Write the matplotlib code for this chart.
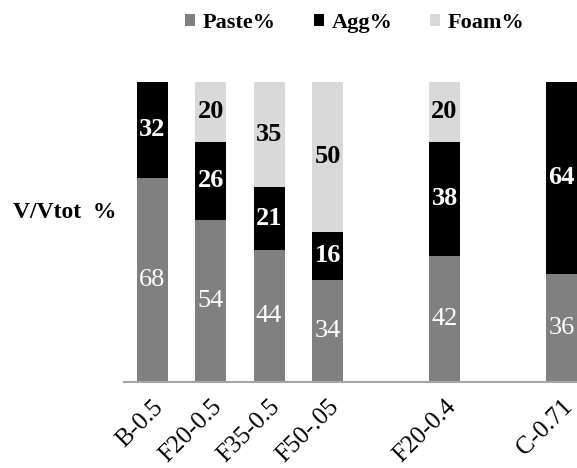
import numpy as np
import matplotlib.pyplot as plt

plt.rcParams['font.family'] = ['Liberation Serif', 'DejaVu Serif']

mixes = ['B-0.5', 'F20-0.5', 'F35-0.5', 'F50-.05', 'F20-0.4', 'C-0.71']
slots = [0, 1, 2, 3, 5, 7]
paste = [68, 54, 44, 34, 42, 36]
agg = [32, 26, 21, 16, 38, 64]
foam = [0, 20, 35, 50, 20, 0]

fig = plt.figure(figsize=(5.77, 4.68), dpi=100)
ax = fig.add_axes([0.215, 0.184, 0.785, 0.641])

x = np.array(slots)
paste = np.array(paste)
agg = np.array(agg)
foam = np.array(foam)
w = 0.53

ax.bar(x, paste, w, color='#808080', label='Paste%')
ax.bar(x, agg, w, bottom=paste, color='black', label='Agg%')
ax.bar(x, foam, w, bottom=paste + agg, color='#d9d9d9', label='Foam%')

for xi, p, a, f in zip(x, paste, agg, foam):
    ax.text(xi, p / 2, str(p), ha='center', va='center', color='white', fontsize=19)
    ax.text(xi, p + a / 2, str(a), ha='center', va='center', color='white',
            fontsize=19, fontweight='bold')
    if f > 0:
        ax.text(xi, p + a + f / 2, str(f), ha='center', va='center', color='black',
                fontsize=19, fontweight='bold')

ax.set_xlim(-0.48, 7.265)
ax.set_ylim(0, 100)
ax.set_xticks(x)
ax.set_xticklabels(mixes, rotation=45, ha='right', rotation_mode='anchor', fontsize=18)
ax.tick_params(axis='x', length=0, pad=10)
ax.set_yticks([])
for s in ['top', 'right', 'left']:
    ax.spines[s].set_visible(False)
ax.spines['bottom'].set_color('#a6a6a6')
ax.spines['bottom'].set_linewidth(1.5)

fig.text(0.022, 0.545, 'V/Vtot  %', fontsize=17, fontweight='bold', va='center')

fig.legend(loc='upper center', bbox_to_anchor=(0.615, 1.015), ncol=3, frameon=False,
           prop={'size': 16, 'weight': 'bold'}, handlelength=0.45, handleheight=0.45,
           handletextpad=0.35, columnspacing=1.7)

fig.savefig('out.png', dpi=100)
